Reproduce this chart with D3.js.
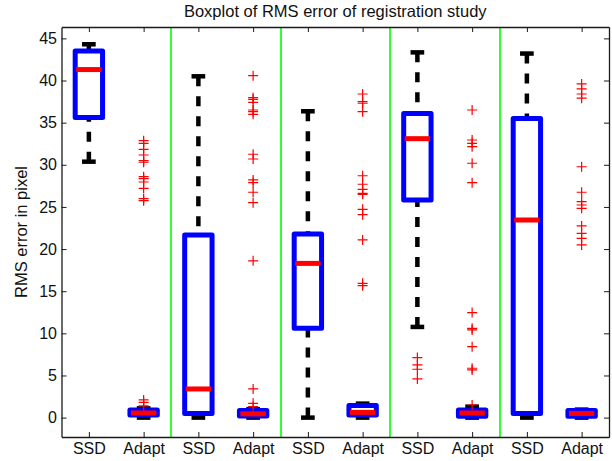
<!DOCTYPE html>
<html>
<head>
<meta charset="utf-8">
<script src="https://cdn.jsdelivr.net/npm/d3@7"></script>
<style>
  body { margin: 0; background: #fff; }
  svg { display: block; font-family: "Liberation Sans", Arial, sans-serif; }
</style>
</head>
<body>
<script>
// one entry per box, left to right
const groups = ["SSD", "Adapt", "SSD", "Adapt", "SSD", "Adapt", "SSD", "Adapt", "SSD", "Adapt"];
const whiskerLow  = [30.37, 0,    0,     0,    0,     0,    10.76, 0,    0,     0];
const q1          = [35.6,  0.3,  0.5,   0.2,  10.6,  0.3,  25.82, 0.15, 0.5,   0.15];
const medians     = [41.3,  0.55, 3.4,   0.45, 18.3,  0.62, 33.1,  0.55, 23.45, 0.5];
const q3          = [43.5,  0.9,  21.67, 0.83, 21.8,  1.45, 36.1,  0.9,  35.5,  0.85];
const whiskerHigh = [44.3,  1.1,  40.5,  1.0,  36.35, 1.66, 43.34, 1.3,  43.2,  0.95];
const outliers = [
  [],
  [1.4, 1.8, 2.1, 25.74, 25.98, 27.21, 27.96, 28.35, 28.59, 30.3, 30.49, 31.16, 31.84, 32.55, 32.86],
  [],
  [1.3, 1.7, 3.4, 18.6, 25.5, 26.74, 27.88, 28.2, 30.69, 31.25, 35.99, 36.3, 36.5, 37.41, 37.77, 37.96, 40.57],
  [],
  [15.66, 15.94, 21.08, 24.08, 24.72, 26.5, 26.62, 27.09, 27.69, 28.7, 36.3, 37.3, 37.49, 38.4],
  [4.59, 5.74, 6.25, 7.12],
  [1.5, 5.66, 5.86, 8.42, 10.4, 10.6, 12.46, 27.88, 30.18, 32.15, 32.55, 32.94, 36.5],
  [],
  [20.49, 21.28, 21.87, 22.74, 24.84, 25.23, 25.62, 26.74, 29.77, 37.9, 38.4, 39.0, 39.6]
];
const separators = [2.5, 4.5, 6.5, 8.5];
const yTicks = [0, 5, 10, 15, 20, 25, 30, 35, 40, 45];

const width = 612,
  height = 461,
  plotLeft = 61.5,
  plotRight = 609,
  plotTop = 27,
  plotBottom = 437;

const svg = d3.select("body").append("svg")
  .attr("width", width)
  .attr("height", height);

const x = d3.scaleLinear().domain([0.5, 10.5]).range([plotLeft, plotRight]);
const y = d3.scaleLinear().domain([-2.3, 46.35]).range([plotBottom, plotTop]);
const boxHalf = x(1.25) - x(1);
const capHalf = x(1.125) - x(1);

const boxes = groups.map((g, i) => ({
  pos: i + 1,
  lo: whiskerLow[i], q1: q1[i], med: medians[i], q3: q3[i], hi: whiskerHigh[i],
  out: outliers[i]
}));

// group separators
svg.append("g").selectAll("line")
  .data(separators)
  .join("line")
  .attr("x1", d => Math.round(x(d))).attr("x2", d => Math.round(x(d)))
  .attr("y1", plotTop).attr("y2", plotBottom)
  .attr("stroke", "#00ff00")
  .attr("stroke-width", 1.6);

const boxG = svg.append("g");

// whiskers, drawn from the cap towards the box
boxG.selectAll("line.whisker-hi")
  .data(boxes)
  .join("line")
  .attr("class", "whisker-hi")
  .attr("x1", d => x(d.pos)).attr("x2", d => x(d.pos))
  .attr("y1", d => y(d.hi)).attr("y2", d => y(d.q3))
  .attr("stroke", "#000").attr("stroke-width", 4.5)
  .attr("stroke-dasharray", "10,10");

boxG.selectAll("line.whisker-lo")
  .data(boxes)
  .join("line")
  .attr("class", "whisker-lo")
  .attr("x1", d => x(d.pos)).attr("x2", d => x(d.pos))
  .attr("y1", d => y(d.lo)).attr("y2", d => y(d.q1))
  .attr("stroke", "#000").attr("stroke-width", 4.5)
  .attr("stroke-dasharray", "10,10");

// caps
["lo", "hi"].forEach(k => {
  boxG.selectAll("line.cap-" + k)
    .data(boxes)
    .join("line")
    .attr("class", "cap-" + k)
    .attr("x1", d => x(d.pos) - capHalf).attr("x2", d => x(d.pos) + capHalf)
    .attr("y1", d => y(d[k])).attr("y2", d => y(d[k]))
    .attr("stroke", "#000").attr("stroke-width", 4.5);
});

// boxes
boxG.selectAll("rect")
  .data(boxes)
  .join("rect")
  .attr("x", d => x(d.pos) - boxHalf)
  .attr("width", boxHalf * 2)
  .attr("y", d => y(d.q3))
  .attr("height", d => y(d.q1) - y(d.q3))
  .attr("fill", "none")
  .attr("stroke", "#0000ff")
  .attr("stroke-width", 5)
  .attr("stroke-linejoin", "round");

// medians
boxG.selectAll("line.median")
  .data(boxes)
  .join("line")
  .attr("class", "median")
  .attr("x1", d => x(d.pos) - boxHalf + 1).attr("x2", d => x(d.pos) + boxHalf - 1)
  .attr("y1", d => y(d.med)).attr("y2", d => y(d.med))
  .attr("stroke", "#ff0000").attr("stroke-width", 5);

// outliers as '+'
const outPts = boxes.flatMap(d => d.out.map(v => ({pos: d.pos, v: v})));
svg.append("g").selectAll("path")
  .data(outPts)
  .join("path")
  .attr("d", d => {
    const cx = x(d.pos), cy = y(d.v), r = 5;
    return `M${cx - r},${cy}H${cx + r}M${cx},${cy - r}V${cy + r}`;
  })
  .attr("stroke", "#ff0000")
  .attr("stroke-width", 1.2)
  .attr("fill", "none");

// axes
const axisColor = "#1a1a1a";
const styleAxis = g => {
  g.select(".domain").attr("stroke", axisColor).attr("stroke-width", 1.3);
  g.selectAll(".tick line").attr("stroke", axisColor);
  g.selectAll(".tick text").attr("fill", "#111");
};

svg.append("g")
  .attr("transform", `translate(${plotLeft},0)`)
  .call(d3.axisLeft(y).tickValues(yTicks).tickSizeInner(-5).tickSizeOuter(0).tickPadding(4.5))
  .call(g => g.attr("font-size", 16).attr("font-family", null))
  .call(styleAxis);

svg.append("g")
  .attr("transform", `translate(${plotRight},0)`)
  .call(d3.axisRight(y).tickValues(yTicks).tickSizeInner(-5).tickSizeOuter(0).tickFormat(""))
  .call(styleAxis);

svg.append("g")
  .attr("transform", `translate(0,${plotBottom})`)
  .call(d3.axisBottom(x).tickValues(d3.range(1, 11)).tickSizeInner(-5).tickSizeOuter(0)
    .tickPadding(6).tickFormat(d => groups[d - 1]))
  .call(g => g.attr("font-size", 16).attr("font-family", null))
  .call(styleAxis);

svg.append("g")
  .attr("transform", `translate(0,${plotTop})`)
  .call(d3.axisTop(x).tickValues(d3.range(1, 11)).tickSizeInner(-5).tickSizeOuter(0).tickFormat(""))
  .call(styleAxis);

// title and y label
svg.append("text")
  .attr("x", (plotLeft + plotRight) / 2)
  .attr("y", 16.5)
  .attr("text-anchor", "middle")
  .attr("font-size", 16.5)
  .attr("fill", "#111")
  .text("Boxplot of RMS error of registration study");

svg.append("text")
  .attr("transform", `translate(27,${(plotTop + plotBottom) / 2}) rotate(-90)`)
  .attr("text-anchor", "middle")
  .attr("font-size", 16.5)
  .attr("fill", "#111")
  .text("RMS error in pixel");
</script>
</body>
</html>
